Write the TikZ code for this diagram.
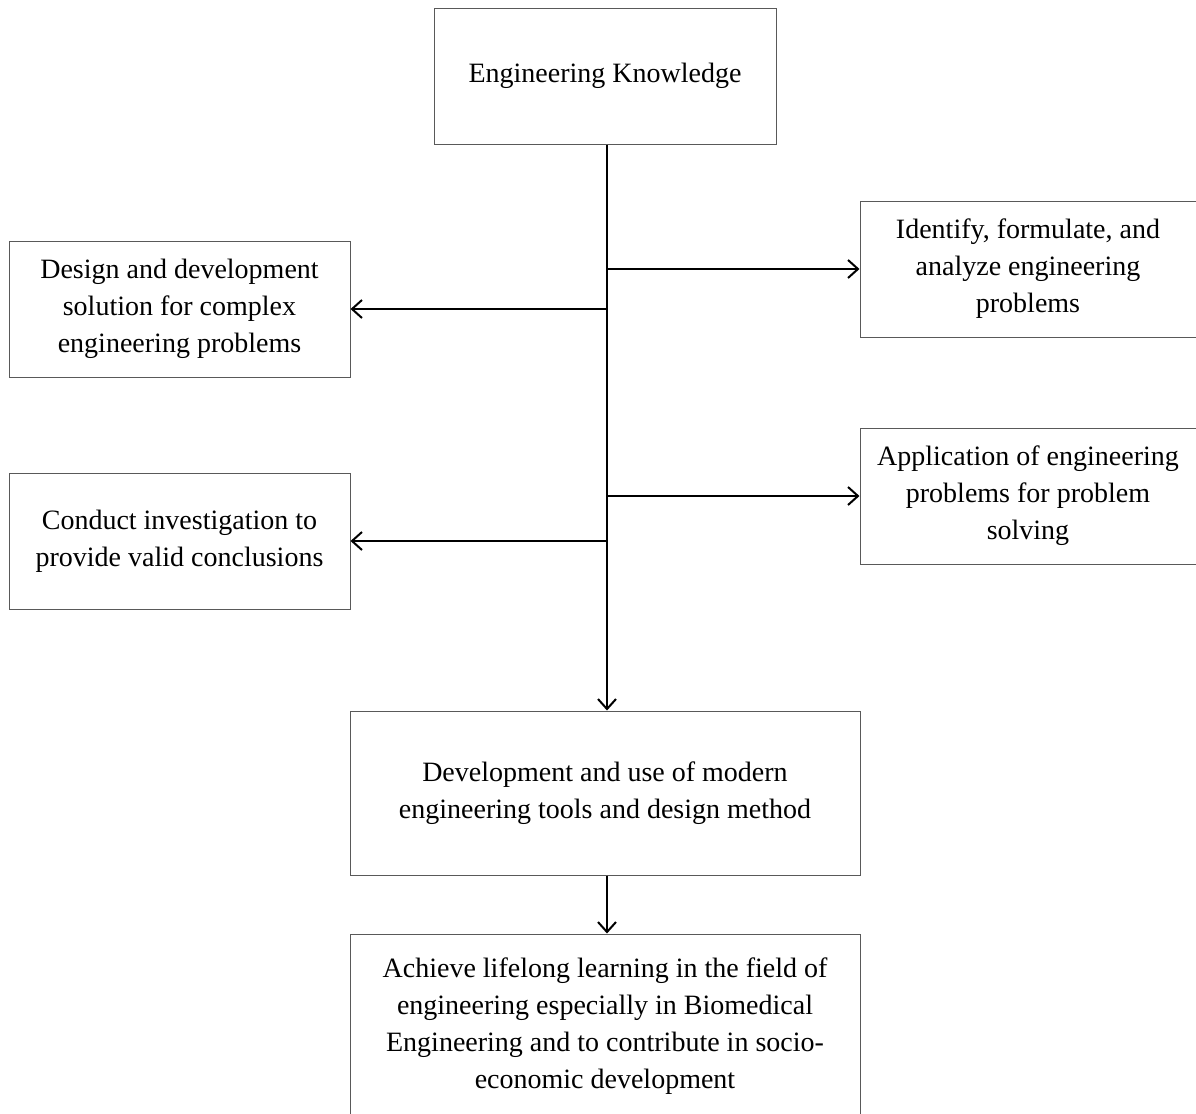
\documentclass[tikz,border=0pt]{standalone}
\usepackage{fontspec}
\setmainfont{Liberation Serif}
\usetikzlibrary{arrows.meta,calc}

\begin{document}
\begin{tikzpicture} [x=0.5pt, y=-0.5pt, %
  box/.style={draw=black!65, line width=0.5pt, rectangle, align=center, inner sep=0pt, %
    font=\fontsize{14}{18.5}\selectfont}, %
  sbox/.style={box, minimum width=170.5pt, minimum height=68pt}, %
  link/.style={line width=1pt, -{Straight Barb[length=5pt, width=9pt]}}] %
\useasboundingbox (0,0) rectangle (1196,1114); %
\node [box, minimum width=171pt, minimum height=68pt] (know) at (605,76) {Engineering Knowledge}; %
\node [sbox] (design) at (179.5,309) {Design and development\\solution for complex\\engineering problems}; %
\node [sbox, minimum width=168pt] (ident) at (1028,269) {Identify, formulate, and\\analyze engineering\\problems}; %
\node [sbox] (conduct) at (179.5,541) {Conduct investigation to\\provide valid conclusions}; %
\node [sbox, minimum width=168pt] (appl) at (1028,496) {Application of engineering\\problems for problem\\solving}; %
\node [box, minimum width=255pt, minimum height=82pt] (devel) at (605,793) {Development and use of modern\\engineering tools and design method}; %
\node [box, minimum width=255pt, minimum height=92pt] (achieve) at (605,1026) {Achieve lifelong learning in the field of\\engineering especially in Biomedical\\Engineering and to contribute in socio-\\economic development}; %
 %
% trunk and branches
\coordinate (trunk) at ($(know.south)+(2,0)$); %
\draw [link] (trunk) -- (trunk |- devel.north); %
\draw [link] (trunk |- ident.west) -- (ident.west); %
\draw [link] (trunk |- design.east) -- (design.east); %
\draw [link] (trunk |- appl.west) -- (appl.west); %
\draw [link] (trunk |- conduct.east) -- (conduct.east); %
\draw [link] (trunk |- devel.south) -- (trunk |- achieve.north); %
\end{tikzpicture}
\end{document}
